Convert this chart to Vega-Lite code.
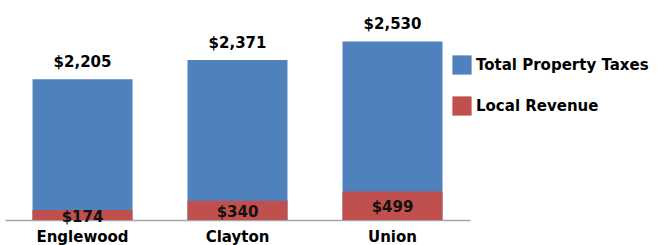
{
  "$schema": "https://vega.github.io/schema/vega-lite/v6.json",
  "width": 465,
  "height": 220,
  "autosize": "none",
  "padding": {"left": 5, "top": 0, "right": 190, "bottom": 25},
  "background": "white",
  "config": {"view": {"stroke": null}, "font": "DejaVu Sans"},
  "data": {
    "values": [
      {"city": "Englewood", "total": 2205, "local": 174},
      {"city": "Clayton", "total": 2371, "local": 340},
      {"city": "Union", "total": 2530, "local": 499}
    ]
  },
  "encoding": {
    "x": {
      "field": "city",
      "type": "nominal",
      "sort": null,
      "scale": {"paddingInner": 0.355, "paddingOuter": 0.1775},
      "axis": {
        "title": null,
        "ticks": false,
        "labelAngle": 0,
        "labelFont": "DejaVu Sans",
        "labelFontSize": 15,
        "labelFontWeight": "bold",
        "labelColor": "#000000",
        "labelPadding": 9,
        "domainColor": "#a6a6a6",
        "domainWidth": 1.5
      }
    }
  },
  "layer": [
    {
      "mark": {"type": "bar", "clip": true},
      "encoding": {
        "y": {"field": "total", "type": "quantitative", "scale": {"domain": [1000, 2885], "nice": false, "zero": false}, "axis": null},
        "y2": {"datum": 1000},
        "color": {
          "datum": "Total Property Taxes",
          "type": "nominal",
          "scale": {"domain": ["Total Property Taxes", "Local Revenue"], "range": ["#4F81BD", "#C0504D"]},
          "legend": {
            "title": null,
            "orient": "none",
            "legendX": 447,
            "legendY": 55,
            "symbolType": "square",
            "symbolSize": 370,
            "symbolStrokeWidth": 0,
            "symbolOpacity": 1,
            "labelFont": "DejaVu Sans",
            "labelFontSize": 15,
            "labelFontWeight": "bold",
            "labelColor": "#000000",
            "labelOffset": 4,
            "labelLimit": 400,
            "rowPadding": 21,
            "padding": 0
          }
        }
      }
    },
    {
      "mark": {"type": "bar"},
      "encoding": {
        "y": {"field": "local", "type": "quantitative", "scale": {"domain": [0, 3861], "nice": false}, "axis": null},
        "y2": {"datum": 0},
        "color": {"datum": "Local Revenue", "type": "nominal"}
      }
    },
    {
      "mark": {"type": "text", "font": "DejaVu Sans", "fontSize": 15, "fontWeight": "bold", "color": "#000000", "baseline": "bottom", "dy": -9},
      "encoding": {
        "y": {"field": "total", "type": "quantitative", "scale": {"domain": [1000, 2885], "nice": false, "zero": false}, "axis": null},
        "text": {"field": "total", "type": "quantitative", "format": "$,.0f"}
      }
    },
    {
      "mark": {"type": "text", "font": "DejaVu Sans", "fontSize": 15, "fontWeight": "bold", "color": "#111111", "baseline": "middle", "dy": 1.5},
      "encoding": {
        "y": {"field": "local", "type": "quantitative", "scale": {"domain": [0, 7722], "nice": false}, "axis": null},
        "text": {"field": "local", "type": "quantitative", "format": "$,.0f"}
      }
    }
  ],
  "resolve": {"scale": {"y": "independent"}, "axis": {"y": "independent"}}
}
